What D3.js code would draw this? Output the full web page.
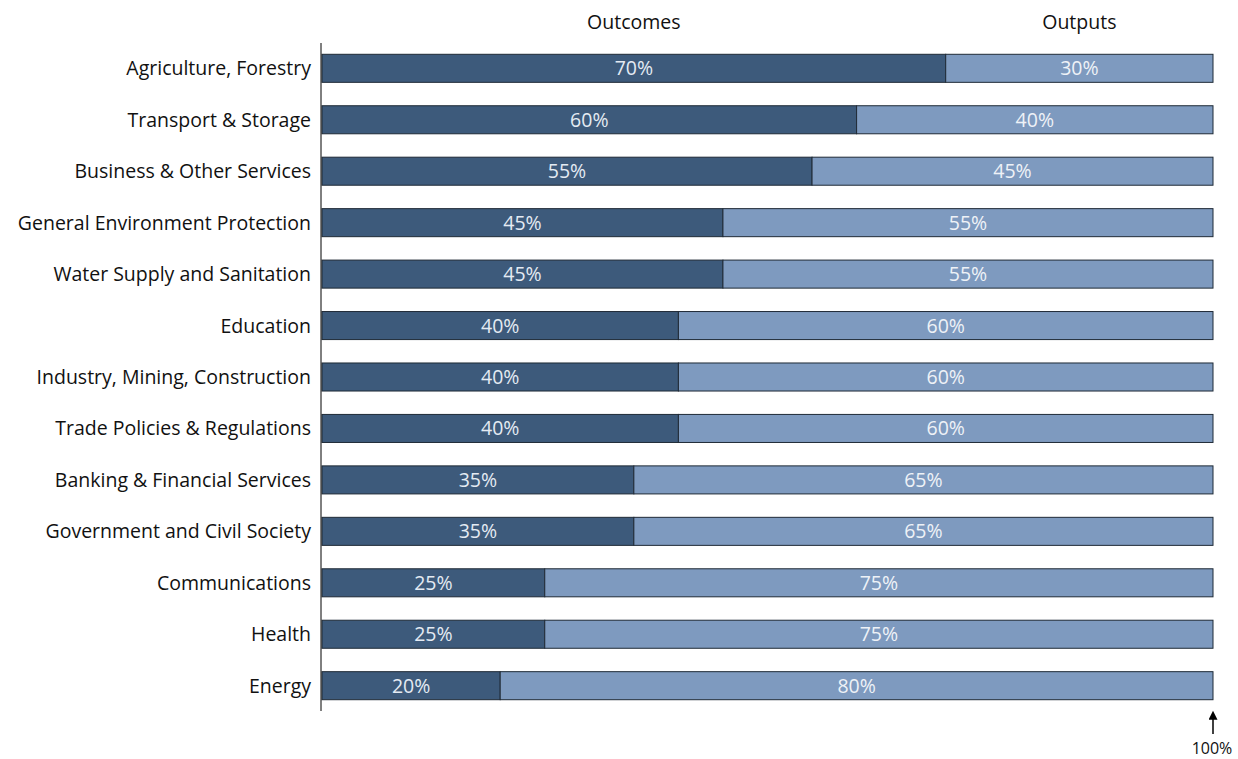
<!DOCTYPE html>
<html>
<head>
<meta charset="utf-8">
<script src="https://cdn.jsdelivr.net/npm/d3@7"></script>
<style>
  body { margin: 0; background: #fff; }
  text { font-family: "Open Sans", Lato, sans-serif; }
</style>
</head>
<body>
<div id="chart"></div>
<script>
// data
let sectors = ["Agriculture, Forestry", "Transport & Storage", "Business & Other Services",
    "General Environment Protection", "Water Supply and Sanitation", "Education",
    "Industry, Mining, Construction", "Trade Policies & Regulations",
    "Banking & Financial Services", "Government and Civil Society",
    "Communications", "Health", "Energy"];
let outcomes = [70, 60, 55, 45, 45, 40, 40, 40, 35, 35, 25, 25, 20];
let outputs = [30, 40, 45, 55, 55, 60, 60, 60, 65, 65, 75, 75, 80];
let seriesNames = ["Outcomes", "Outputs"];

let width = 1238, height = 759;
let margin = {top: 44, right: 25, bottom: 49, left: 322};
let fs = "19.5px";

let svg = d3.select("#chart")
    .append("svg")
    .attr("width", width)
    .attr("height", height);

let x = d3.scaleLinear()
    .domain([0, 100])
    .range([margin.left, width - margin.right]);

let y = d3.scaleBand()
    .domain(sectors)
    .range([margin.top, height - margin.bottom])
    .paddingInner(0.455)
    .paddingOuter(0.2);

let rows = sectors.map(function(s, i) {
    return {name: s, a: outcomes[i], b: outputs[i]};
});

// outcome segments
svg.selectAll(".outc")
    .data(rows)
    .enter()
    .append("rect")
    .attr("x", x(0))
    .attr("y", d => y(d.name))
    .attr("width", d => x(d.a) - x(0))
    .attr("height", y.bandwidth())
    .attr("fill", "#3d5a7b")
    .attr("stroke", "#1f2a36")
    .attr("stroke-width", 1);

// output segments
svg.selectAll(".outp")
    .data(rows)
    .enter()
    .append("rect")
    .attr("x", d => x(d.a))
    .attr("y", d => y(d.name))
    .attr("width", d => x(d.a + d.b) - x(d.a))
    .attr("height", y.bandwidth())
    .attr("fill", "#7e9abf")
    .attr("stroke", "#1f2a36")
    .attr("stroke-width", 1);

// value labels
svg.selectAll(".la")
    .data(rows)
    .enter()
    .append("text")
    .attr("x", d => (x(0) + x(d.a)) / 2)
    .attr("y", d => y(d.name) + y.bandwidth() / 2)
    .attr("dy", "0.36em")
    .attr("text-anchor", "middle")
    .attr("font-size", fs)
    .attr("fill", "#e4ebf3")
    .text(d => d.a + "%");

svg.selectAll(".lb")
    .data(rows)
    .enter()
    .append("text")
    .attr("x", d => (x(d.a) + x(d.a + d.b)) / 2)
    .attr("y", d => y(d.name) + y.bandwidth() / 2)
    .attr("dy", "0.36em")
    .attr("text-anchor", "middle")
    .attr("font-size", fs)
    .attr("fill", "#eef2f7")
    .text(d => d.b + "%");

// category axis
svg.append("line")
    .attr("x1", x(0) - 1).attr("x2", x(0) - 1)
    .attr("y1", margin.top - 1).attr("y2", height - margin.bottom + 1)
    .attr("stroke", "#000")
    .attr("stroke-width", 1);

svg.selectAll(".cat")
    .data(sectors)
    .enter()
    .append("text")
    .attr("x", x(0) - 11)
    .attr("y", d => y(d) + y.bandwidth() / 2)
    .attr("dy", "0.36em")
    .attr("text-anchor", "end")
    .attr("font-size", fs)
    .attr("fill", "#111")
    .text(d => d);

// series headers, centred over the first row's segments
let first = rows[0];
svg.append("text")
    .attr("x", (x(0) + x(first.a)) / 2)
    .attr("y", 22)
    .attr("dy", "0.36em")
    .attr("text-anchor", "middle")
    .attr("font-size", fs)
    .attr("fill", "#111")
    .text(seriesNames[0]);
svg.append("text")
    .attr("x", (x(first.a) + x(100)) / 2)
    .attr("y", 22)
    .attr("dy", "0.36em")
    .attr("text-anchor", "middle")
    .attr("font-size", fs)
    .attr("fill", "#111")
    .text(seriesNames[1]);

// 100% marker
svg.append("defs").append("marker")
    .attr("id", "arr")
    .attr("viewBox", "0 0 10 10")
    .attr("refX", 2).attr("refY", 5)
    .attr("markerWidth", 10).attr("markerHeight", 9)
    .attr("markerUnits", "userSpaceOnUse")
    .attr("orient", "auto")
    .append("path")
    .attr("d", "M0,0L10,5L0,10Z")
    .attr("fill", "#000");

svg.append("line")
    .attr("x1", x(100)).attr("x2", x(100))
    .attr("y1", 734).attr("y2", 718)
    .attr("stroke", "#000")
    .attr("stroke-width", 1.5)
    .attr("marker-end", "url(#arr)");

svg.append("text")
    .attr("x", x(100) - 1)
    .attr("y", 748)
    .attr("dy", "0.36em")
    .attr("text-anchor", "middle")
    .attr("font-size", "16px")
    .attr("fill", "#111")
    .text("100%");
</script>
</body>
</html>
